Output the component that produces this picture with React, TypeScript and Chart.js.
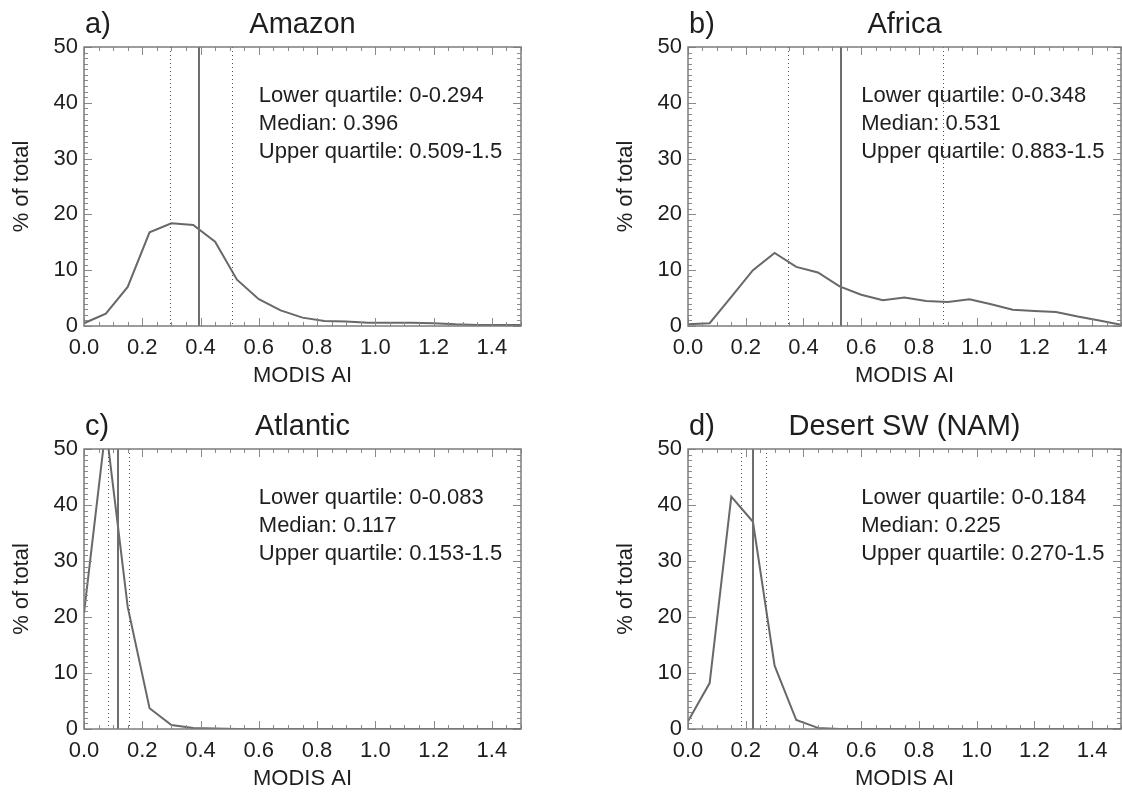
import React, { useEffect, useRef } from "react";
import { Chart, registerables } from "chart.js";

Chart.register(...registerables);

// ---------- data ----------
const AI_BINS = [0, 0.075, 0.15, 0.225, 0.3, 0.375, 0.45, 0.525, 0.6, 0.675, 0.75, 0.825, 0.9, 0.975, 1.05, 1.125, 1.2, 1.275, 1.35, 1.425, 1.5];
const AMAZON_PCT = [0.5, 2.2, 7.0, 16.8, 18.4, 18.1, 15.1, 8.3, 4.8, 2.8, 1.5, 0.9, 0.8, 0.6, 0.6, 0.6, 0.5, 0.3, 0.2, 0.2, 0.2];
const AFRICA_PCT = [0.3, 0.5, 5.2, 10.0, 13.1, 10.6, 9.6, 7.1, 5.6, 4.6, 5.1, 4.5, 4.3, 4.8, 3.9, 2.9, 2.7, 2.5, 1.7, 1.0, 0.2];
const ATLANTIC_PCT = [20.7, 54.0, 21.8, 3.7, 0.7, 0.2, 0.1, 0.0, 0.0, 0.0, 0.0, 0.0, 0.0, 0.0, 0.0, 0.0, 0.0, 0.0, 0.0, 0.0, 0.0];
const DESERT_PCT = [1.4, 8.2, 41.5, 37.0, 11.3, 1.6, 0.2, 0.0, 0.0, 0.0, 0.0, 0.0, 0.0, 0.0, 0.0, 0.0, 0.0, 0.0, 0.0, 0.0, 0.0];

const PANEL_LETTERS = ["a)", "b)", "c)", "d)"];
const PANEL_TITLES = ["Amazon", "Africa", "Atlantic", "Desert SW (NAM)"];
const LOWER_QUARTILE = [0.294, 0.348, 0.083, 0.184];
const MEDIAN = [0.396, 0.531, 0.117, 0.225];
const UPPER_QUARTILE = [0.509, 0.883, 0.153, 0.27];
const SERIES = [AMAZON_PCT, AFRICA_PCT, ATLANTIC_PCT, DESERT_PCT];

const X_TICKS = [0, 0.2, 0.4, 0.6, 0.8, 1.0, 1.2, 1.4];
const Y_TICKS = [0, 10, 20, 30, 40, 50];
const X_TITLE = "MODIS AI";
const Y_TITLE = "% of total";

// ---------- layout ----------
const CW = 561;
const CH = 396;
const XAXIS_H = 60;
const FONT = '"Liberation Sans", Arial, Helvetica, sans-serif';
const TEXT = "#1e1e1e";

type Box = { left: number; top: number; L: number; R: number; T: number; B: number };
const BOXES: Box[] = [
  { left: 0, top: 0, L: 84, R: 521, T: 47, B: 326 },
  { left: 561, top: 0, L: 127, R: 560, T: 47, B: 326 },
  { left: 0, top: 396, L: 84, R: 521, T: 53, B: 333 },
  { left: 561, top: 396, L: 127, R: 560, T: 53, B: 333 },
];

function makeDecor(i: number) {
  return {
    id: "panelDecor" + i,
    afterDatasetsDraw(chart: any) {
      const { ctx, chartArea: a, scales } = chart;
      const xs = scales.x;
      const ys = scales.y;
      ctx.save();
      // quartile lines (dotted)
      ctx.strokeStyle = "#505050";
      ctx.lineWidth = 1;
      ctx.setLineDash([1, 3]);
      for (const v of [LOWER_QUARTILE[i], UPPER_QUARTILE[i]]) {
        const px = Math.round(xs.getPixelForValue(v)) + 0.5;
        ctx.beginPath();
        ctx.moveTo(px, a.top);
        ctx.lineTo(px, a.bottom);
        ctx.stroke();
      }
      ctx.setLineDash([]);
      // median line
      ctx.strokeStyle = "#6e6e6e";
      ctx.lineWidth = 2;
      const mx = Math.round(xs.getPixelForValue(MEDIAN[i]));
      ctx.beginPath();
      ctx.moveTo(mx, a.top);
      ctx.lineTo(mx, a.bottom);
      ctx.stroke();
      // tick marks (inward) on all four sides
      ctx.strokeStyle = "#8a8a8a";
      ctx.lineWidth = 1;
      ctx.beginPath();
      for (let k = 0; k <= 30; k++) {
        const v = k * 0.05;
        const px = Math.round(xs.getPixelForValue(v)) + 0.5;
        const len = k % 4 === 0 ? 8 : 4;
        ctx.moveTo(px, a.bottom);
        ctx.lineTo(px, a.bottom - len);
        ctx.moveTo(px, a.top);
        ctx.lineTo(px, a.top + len);
      }
      for (let k = 0; k <= 50; k++) {
        const py = Math.round(ys.getPixelForValue(k)) + 0.5;
        const len = k % 10 === 0 ? 8 : 4;
        ctx.moveTo(a.left, py);
        ctx.lineTo(a.left + len, py);
        ctx.moveTo(a.right, py);
        ctx.lineTo(a.right - len, py);
      }
      ctx.stroke();
      // frame
      ctx.strokeStyle = "#7c7c7c";
      ctx.lineWidth = 1.5;
      ctx.strokeRect(a.left, a.top, a.right - a.left, a.bottom - a.top);
      ctx.restore();
    },
    afterDraw(chart: any) {
      const { ctx, chartArea: a, scales } = chart;
      const xs = scales.x;
      ctx.save();
      ctx.fillStyle = TEXT;
      // panel letter and title
      ctx.font = `29px ${FONT}`;
      ctx.textBaseline = "alphabetic";
      ctx.textAlign = "left";
      ctx.fillText(PANEL_LETTERS[i], a.left + 1, a.top - 14);
      ctx.textAlign = "center";
      ctx.fillText(PANEL_TITLES[i], (a.left + a.right) / 2, a.top - 14);
      // quartile annotation
      ctx.font = `22px ${FONT}`;
      ctx.textAlign = "left";
      const tx = xs.getPixelForValue(0.6);
      ctx.fillText(`Lower quartile: 0-${LOWER_QUARTILE[i].toFixed(3)}`, tx, a.top + 55);
      ctx.fillText(`Median: ${MEDIAN[i].toFixed(3)}`, tx, a.top + 83);
      ctx.fillText(`Upper quartile: ${UPPER_QUARTILE[i].toFixed(3)}-1.5`, tx, a.top + 111);
      // axis titles
      ctx.font = `22px ${FONT}`;
      ctx.textAlign = "center";
      ctx.fillText(X_TITLE, (a.left + a.right) / 2, a.bottom + 56);
      ctx.translate(a.left - 62, (a.top + a.bottom) / 2);
      ctx.rotate(-Math.PI / 2);
      ctx.textBaseline = "middle";
      ctx.fillText(Y_TITLE, 0, 0);
      ctx.restore();
    },
  };
}

function Panel({ i }: { i: number }) {
  const ref = useRef<HTMLCanvasElement | null>(null);
  const box = BOXES[i];
  useEffect(() => {
    if (!ref.current) return;
    const points = AI_BINS.map((x, k) => ({ x, y: SERIES[i][k] }));
    const chart = new Chart(ref.current, {
      type: "line",
      data: {
        datasets: [
          {
            data: points,
            borderColor: "#686868",
            borderWidth: 2,
            pointRadius: 0,
            tension: 0,
            fill: false,
          },
        ],
      },
      options: {
        animation: false,
        responsive: false,
        devicePixelRatio: 1,
        events: [],
        layout: {
          padding: { left: 0, top: box.T, right: CW - box.R, bottom: CH - box.B - XAXIS_H },
        },
        plugins: {
          legend: { display: false },
          tooltip: { enabled: false },
          title: { display: false },
        },
        scales: {
          x: {
            type: "linear",
            min: 0,
            max: 1.5,
            grid: { display: false, drawTicks: false },
            border: { display: false },
            ticks: {
              font: { family: FONT, size: 22 },
              color: TEXT,
              padding: 9,
              maxRotation: 0,
              autoSkip: false,
              callback: (v: any) => Number(v).toFixed(1),
            },
            afterBuildTicks: (s: any) => {
              s.ticks = X_TICKS.map((v) => ({ value: v }));
            },
            afterFit: (s: any) => {
              s.height = XAXIS_H;
            },
          },
          y: {
            type: "linear",
            min: 0,
            max: 50,
            grid: { display: false, drawTicks: false },
            border: { display: false },
            ticks: {
              font: { family: FONT, size: 22 },
              color: TEXT,
              padding: 6,
              autoSkip: false,
              callback: (v: any) => String(v),
            },
            afterBuildTicks: (s: any) => {
              s.ticks = Y_TICKS.map((v) => ({ value: v }));
            },
            afterFit: (s: any) => {
              s.width = box.L;
            },
          },
        },
      } as any,
      plugins: [makeDecor(i)],
    });
    return () => chart.destroy();
  }, [i]);
  return (
    <canvas
      ref={ref}
      width={CW}
      height={CH}
      style={{ position: "absolute", left: box.left, top: box.top, width: CW, height: CH }}
    />
  );
}

export default function App() {
  return (
    <div style={{ position: "absolute", left: 0, top: 0, width: 1122, height: 792, background: "#ffffff", overflow: "hidden" }}>
      {[0, 1, 2, 3].map((i) => (
        <Panel key={i} i={i} />
      ))}
    </div>
  );
}
